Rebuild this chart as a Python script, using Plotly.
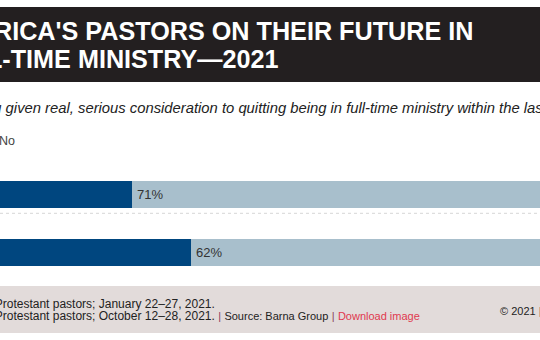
import plotly.graph_objects as go

# ---- data ----
rows = ["January 2021", "October 2021"]
series_names = ["Yes", "No"]
yes_vals = [29, 38]
no_vals = [71, 62]
series_colors = ["#00467f", "#a8bfcc"]

title_lines = ["AMERICA'S PASTORS ON THEIR FUTURE IN", "FULL-TIME MINISTRY\u20142021"]
subtitle = "Have you given real, serious consideration to quitting being in full-time ministry within the last year?"
footer_lines = ["n=507 U.S. Protestant pastors; January 22\u201327, 2021.",
                "n=510 U.S. Protestant pastors; October 12\u201328, 2021."]
source_text = "Source: Barna Group"
download_text = "Download image"
copyright_text = "\u00a9 2021"
copyright_tail = "Barna Group"

W, H = 540, 340
FONT = "Liberation Sans, Arial, Helvetica, sans-serif"

def px(x):
    return x / W

def py(y):
    return 1 - y / H

fig = go.Figure()
for name, vals, col in zip(series_names, [yes_vals, no_vals], series_colors):
    fig.add_trace(go.Bar(
        y=rows, x=vals, name=name, orientation="h",
        marker=dict(color=col, line=dict(width=0)),
        width=0.4655, showlegend=False, hoverinfo="skip",
    ))

shapes = []
annotations = []

# title band
shapes.append(dict(type="rect", xref="paper", yref="paper", x0=-0.2, x1=1.2,
                   y0=py(82), y1=py(7), fillcolor="#231f20", line=dict(width=0), layer="below"))
# footer band
shapes.append(dict(type="rect", xref="paper", yref="paper", x0=-0.2, x1=1.2,
                   y0=py(333), y1=py(286), fillcolor="#e2dbda", line=dict(width=0), layer="below"))
# dotted separator between rows
shapes.append(dict(type="line", xref="paper", yref="paper", x0=-0.2, x1=1.2,
                   y0=py(213.3), y1=py(213.3), line=dict(color="#d6d6d6", width=1, dash="dot")))

# title
for line, yc in zip(title_lines, [31.4, 58.6]):
    annotations.append(dict(xref="paper", yref="paper", x=px(-64), y=py(yc), xanchor="left",
                            yanchor="middle", showarrow=False, text="<b>" + line + "</b>",
                            font=dict(family=FONT, size=25.2, color="#ffffff")))
# subtitle
annotations.append(dict(xref="paper", yref="paper", x=px(-63.5), y=py(108), xanchor="left",
                        yanchor="middle", showarrow=False, text="<i>" + subtitle + "</i>",
                        font=dict(family=FONT, size=14.8, color="#222222")))

# legend (drawn manually)
leg_x = [-55, -17]
for name, col, lx in zip(series_names, series_colors, leg_x):
    shapes.append(dict(type="rect", xref="paper", yref="paper", x0=px(lx), x1=px(lx + 10),
                       y0=py(146), y1=py(136), fillcolor=col, line=dict(width=0)))
    annotations.append(dict(xref="paper", yref="paper", x=px(lx + 14), y=py(141), xanchor="left",
                            yanchor="middle", showarrow=False, text=name,
                            font=dict(family=FONT, size=12.5, color="#444444")))

# value labels for the "No" segment
for r, y_, n_ in zip(rows, yes_vals, no_vals):
    annotations.append(dict(xref="x", yref="y", x=y_, y=r, xanchor="left", yanchor="middle",
                            xshift=2.5, showarrow=False, text=f"{n_}%",
                            font=dict(family=FONT, size=13, color="#333333")))

# footer
pipe = "<span style='color:#8a3d5c;font-size:11px'>|</span>"
annotations.append(dict(xref="paper", yref="paper", x=px(-71), y=py(303.8), xanchor="left",
                        yanchor="middle", showarrow=False, text=footer_lines[0],
                        font=dict(family=FONT, size=12, color="#222222")))
line2 = (footer_lines[1] + " " + pipe + " "
         + "<span style='font-size:11px'>" + source_text + "</span> " + pipe + " "
         + "<span style='color:#e0394f;font-size:11px'>" + download_text + "</span>")
annotations.append(dict(xref="paper", yref="paper", x=px(-71), y=py(316.2), xanchor="left",
                        yanchor="middle", showarrow=False, text=line2,
                        font=dict(family=FONT, size=12, color="#222222")))
annotations.append(dict(xref="paper", yref="paper", x=px(498), y=py(310.5), xanchor="left",
                        yanchor="middle", showarrow=False,
                        text=copyright_text + " " + pipe + " " + copyright_tail,
                        font=dict(family=FONT, size=11, color="#222222")))

fig.update_layout(
    width=W, height=H, margin=dict(l=0, r=0, t=0, b=0, autoexpand=False),
    paper_bgcolor="#ffffff", plot_bgcolor="#ffffff",
    barmode="stack", bargap=0,
    xaxis=dict(range=[8.86, 91.23], visible=False, fixedrange=True),
    yaxis=dict(type="category", categoryarray=rows, range=[2.509, -3.353],
               visible=False, fixedrange=True),
    shapes=shapes, annotations=annotations, showlegend=False,
)

fig.write_html("out.html")
